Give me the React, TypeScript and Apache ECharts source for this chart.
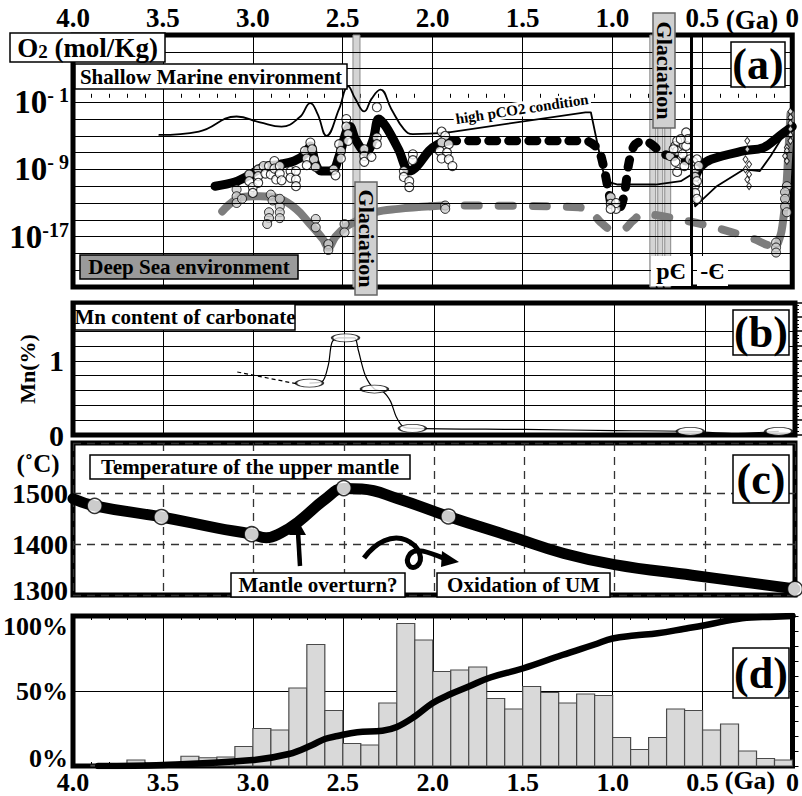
import React, { useEffect, useRef } from "react";
import * as echarts from "echarts";

const FONT = "'Liberation Serif','Times New Roman',serif";

// ---------------- Panel (a): log10 O2 (mol/kg) vs age (Ga) ----------------
const O2_GRID_LEVELS = [-21, -19, -17, -15, -13, -11, -9, -7, -5, -3, -1, 1, 3, 5];
const O2_LABEL_LEVELS = [-1, -9, -17];
const O2_LABEL_EXP: Record<string, string> = { "-1": "- 1", "-9": "- 9", "-17": "-17" };

const HIGH_PCO2_EARLY = [
  [3.52, -4.9], [3.3, -4.5], [3.09, -2.7], [2.96, -3.4], [2.84, -3.9], [2.74, -2.8], [2.68, -1.1],
  [2.64, -2.4], [2.59, -5.0], [2.52, -1.8], [2.47, 0.9], [2.43, -0.6], [2.38, -2.1], [2.34, -0.6],
  [2.29, 0.5], [2.23, -1.8], [2.16, -4.2], [2.11, -4.8], [1.91, -4.6],
];
const HIGH_PCO2_LATE = [
  [1.91, -4.6], [1.15, -2.2], [1.12, -2.2], [1.04, -10.4], [0.97, -10.8], [0.76, -10.8], [0.62, -10.4],
  [0.56, -9.6], [0.54, -13.4], [0.42, -11.0], [0.27, -9.0], [0.18, -9.2], [0.12, -7.4], [0.01, -3.6],
];
const SHALLOW_ARCHEAN = [
  [3.21, -11.0], [3.1, -10.5], [3.02, -9.7], [2.94, -8.7], [2.85, -8.4], [2.77, -8.0], [2.71, -7.2],
  [2.68, -6.2], [2.65, -8.4], [2.62, -9.2], [2.56, -9.2], [2.52, -7.4], [2.48, -4.5], [2.46, -3.9],
  [2.43, -5.4], [2.37, -7.0], [2.33, -5.4], [2.3, -3.0], [2.26, -3.9], [2.19, -6.6], [2.13, -9.2],
  [2.09, -8.7], [2.02, -6.8], [1.97, -6.0], [1.91, -5.6],
];
const SHALLOW_PROTEROZOIC = [
  [1.91, -5.6], [1.15, -5.6], [1.08, -6.6], [1.05, -8.6], [1.02, -11.7], [1.0, -13.4], [0.96, -13.5],
  [0.93, -11.4], [0.91, -8.4], [0.88, -6.2], [0.83, -5.6], [0.79, -5.9], [0.75, -6.6], [0.71, -7.2],
  [0.66, -7.5], [0.59, -8.0],
];
const SHALLOW_PHANEROZOIC = [
  [0.54, -10.0], [0.51, -8.7], [0.45, -7.8], [0.27, -6.8], [0.16, -6.4], [0.07, -5.0], [0.0, -3.9],
];
const DEEP_ARCHEAN = [
  [3.17, -14.0], [3.06, -12.3], [2.96, -12.2], [2.85, -12.5], [2.76, -13.7], [2.69, -15.3], [2.61, -17.3],
  [2.58, -18.3], [2.54, -17.0], [2.48, -15.8], [2.43, -15.2], [2.32, -14.1], [2.19, -13.7], [2.01, -13.4],
];
const DEEP_PROTEROZOIC = [
  [2.01, -13.4], [1.93, -13.3], [1.19, -13.5], [1.12, -14.0], [1.07, -15.2], [1.01, -16.1], [0.93, -16.0],
  [0.89, -15.2], [0.83, -14.3], [0.64, -14.9], [0.45, -15.8], [0.21, -17.3], [0.13, -18.0], [0.08, -17.8],
];
const DEEP_RECENT = [[0.08, -17.8], [0.06, -16.4], [0.04, -13.1], [0.03, -10.2], [0.01, -2.4]];

const O2_SAMPLES_WHITE = [
  [3.02, -9.6], [3.02, -10.4], [3.0, -11.1], [3.0, -11.8], [2.97, -9.0], [2.97, -9.8], [2.97, -10.6],
  [2.94, -8.6], [2.93, -9.5], [2.91, -8.6], [2.9, -9.6], [2.88, -8.0], [2.88, -8.9], [2.87, -10.2],
  [2.85, -8.6], [2.85, -9.5], [2.84, -10.3], [2.79, -9.2], [2.79, -10.0], [2.76, -9.2], [2.76, -10.2],
  [2.76, -11.0], [2.71, -6.8], [2.7, -7.7], [2.7, -8.5], [2.68, -5.8], [2.67, -6.6], [2.66, -7.8],
  [2.65, -8.7], [2.55, -9.0], [2.54, -9.7], [2.52, -6.0], [2.51, -6.8], [2.51, -7.7], [2.48, -3.0],
  [2.48, -3.9], [2.47, -4.8], [2.47, -5.6], [2.38, -6.6], [2.38, -7.4], [2.38, -8.1], [2.34, -7.5],
  [2.31, -1.6], [2.31, -5.2], [2.31, -6.0], [2.16, -9.2], [2.16, -9.9], [2.13, -10.4], [2.13, -11.1],
  [2.11, -7.2], [2.11, -7.9], [1.95, -4.5], [1.93, -5.0], [1.95, -5.8], [1.91, -6.0], [1.96, -6.8],
  [1.92, -7.0], [1.95, -7.7], [1.91, -7.8], [1.89, -8.6], [1.01, -12.3], [1.01, -13.1], [0.98, -13.7],
  [0.98, -13.0], [1.01, -13.7], [0.68, -7.4], [0.65, -6.2], [0.65, -8.1], [0.64, -5.6], [0.64, -6.8],
  [0.64, -9.3], [0.61, -7.2], [0.6, -8.6], [0.59, -4.6], [0.59, -6.2], [0.58, -5.4], [0.57, -7.8],
  [0.55, -8.1], [0.54, -9.0], [0.54, -9.9], [0.54, -10.9], [0.54, -11.8], [0.53, -7.8], [0.53, -10.4],
  [0.52, -8.6], [0.53, -12.5], [0.62, -5.4], [0.66, -6.6],
];
const O2_SAMPLES_GRAY = [
  [3.09, -11.4], [3.09, -12.2], [3.09, -13.0], [3.06, -12.5], [2.9, -12.0], [2.89, -12.7], [2.91, -14.1],
  [2.91, -14.8], [2.92, -15.5], [2.85, -13.4], [2.85, -14.1], [2.85, -14.8], [2.85, -12.5], [2.65, -14.9],
  [2.65, -15.9], [2.58, -17.9], [2.58, -18.6], [2.49, -15.5], [2.49, -16.5], [1.93, -13.3], [1.93, -13.7],
  [0.03, -11.0], [0.04, -11.7], [0.04, -12.5], [0.04, -13.4], [0.03, -14.1], [0.09, -17.7], [0.09, -18.3],
  [0.09, -18.9],
];
const O2_SAMPLES_SMALL = [
  [0.25, -5.6], [0.25, -6.6], [0.26, -7.8], [0.24, -8.4], [0.26, -9.0], [0.24, -9.6], [0.25, -10.2],
  [0.24, -11.0], [0.01, -2.1], [0.01, -2.8], [0.01, -3.5], [0.01, -4.2], [0.01, -4.9], [0.01, -5.6],
  [0.03, -6.4], [0.03, -6.8], [0.04, -7.4], [0.03, -8.0],
];
const GLACIATION_STRIPS = [[2.443, 2.404], [0.792, 0.759], [0.748, 0.72], [0.709, 0.676]];
const CAMBRIAN_BASE = 0.56;

// ---------------- Panel (b): Mn content of carbonate (%) ----------------
const MN_GRID_LEVELS = [0.2, 0.4, 0.6, 0.8, 1.0, 1.2, 1.4];
const MN_LABELS = [0, 1];
const MN_EARLY_DASHED = [[3.09, 0.85], [2.76, 0.69]];
const MN_TREND = [
  [2.69, 0.7], [2.62, 0.72], [2.585, 0.95], [2.565, 1.25], [2.53, 1.31], [2.49, 1.31], [2.44, 1.31],
  [2.42, 1.15], [2.38, 0.8], [2.33, 0.62], [2.28, 0.58], [2.24, 0.45], [2.21, 0.25], [2.17, 0.11],
  [2.12, 0.09], [1.5, 0.075], [1.0, 0.06], [0.58, 0.05], [0.35, 0.02], [0.09, 0.05],
];
const MN_SAMPLES = [[2.69, 0.7], [2.49, 1.31], [2.33, 0.62], [2.12, 0.09], [0.58, 0.05], [0.09, 0.05]];

// ---------------- Panel (c): upper mantle temperature (°C) ----------------
const MANTLE_T_LINE = [
  [4.0, 1490], [3.88, 1476], [3.51, 1454], [3.2, 1432], [3.01, 1420], [2.93, 1413], [2.85, 1422],
  [2.75, 1445], [2.6, 1490], [2.5, 1510], [2.4, 1509], [2.2, 1490], [1.92, 1455], [1.56, 1414],
  [1.28, 1382], [1.0, 1360], [0.57, 1339], [0.0, 1312],
];
const MANTLE_T_POINTS = [[3.88, 1476], [3.51, 1454], [3.01, 1420], [2.5, 1511], [1.92, 1455], [0.0, 1312]];

// ---------------- Panel (d): histogram (%) and cumulative curve (%) ----------------
const HIST_BIN_OLD_EDGE = [
  3.9, 3.8, 3.7, 3.6, 3.5, 3.4, 3.3, 3.2, 3.1, 3.0, 2.9, 2.8, 2.7, 2.6, 2.5, 2.4, 2.3, 2.2, 2.1, 2.0,
  1.9, 1.8, 1.7, 1.6, 1.5, 1.4, 1.3, 1.2, 1.1, 1.0, 0.9, 0.8, 0.7, 0.6, 0.5, 0.4, 0.3, 0.2, 0.1,
];
const HIST_BIN_WIDTH = 0.1;
const HIST_PCT = [
  0.5, 1, 4, 2, 0.5, 6.5, 5.5, 6, 13, 25, 24, 52, 81, 37, 15, 14, 42, 95, 84, 63,
  64, 66, 45, 38, 53, 49, 42, 48, 47, 19, 11, 19, 38, 37, 24, 28, 10, 5, 4,
];
const CUMULATIVE = [
  [3.86, 0], [3.5, 0.7], [3.0, 4], [2.8, 8], [2.67, 14], [2.6, 18], [2.53, 20], [2.42, 22.5],
  [2.28, 23.5], [2.2, 26], [2.1, 33], [2.0, 42], [1.9, 48], [1.8, 53], [1.68, 59], [1.5, 65],
  [1.28, 74], [1.1, 81], [1.0, 85], [0.88, 87], [0.75, 88.5], [0.6, 91.5], [0.48, 94], [0.28, 98.5],
  [0.1, 99.5], [0.0, 100],
];

const ELLIPSE = "path://M0,4 C0,1.8 4.5,0 10,0 C15.5,0 20,1.8 20,4 C20,6.2 15.5,8 10,8 C4.5,8 0,6.2 0,4 Z";

let shapeRegistered = false;
function registerShapes() {
  if (shapeRegistered) return;
  shapeRegistered = true;
  echarts.graphic.registerShape(
    "curlyArrow",
    echarts.graphic.extendPath(
      "M364,558 C376,542 392,534 406,540 C420,546 424,560 417,566 C410,571 404,562 410,554 C416,547 428,552 446,559",
      {}
    )
  );
}

function box(x: number, y: number, w: number, h: number, text: string, size: number, opts: any = {}) {
  return {
    type: "group",
    x,
    y,
    z: 100,
    children: [
      {
        type: "rect",
        z: 100,
        shape: { x: 0, y: 0, width: w, height: h },
        style: { fill: opts.fill ?? "#fff", stroke: opts.stroke ?? "#000", lineWidth: opts.lw ?? 1.5 },
      },
      {
        type: "text",
        z: 101,
        x: w / 2,
        y: h / 2 + (opts.dy ?? 0),
        rotation: opts.rotation ?? 0,
        style: {
          text,
          fontFamily: FONT,
          fontWeight: "bold",
          fontSize: size,
          fill: "#000",
          align: "center",
          verticalAlign: "middle",
          textAlign: "center",
          textVerticalAlign: "middle",
          rich: opts.rich,
        },
      },
    ],
  };
}

function txt(x: number, y: number, text: string, size: number, extra: any = {}) {
  return {
    type: "text",
    x,
    y,
    z: 102,
    rotation: extra.rotation ?? 0,
    style: {
      text,
      fontFamily: FONT,
      fontWeight: "bold",
      fontSize: size,
      fill: "#000",
      align: "center",
      verticalAlign: "middle",
      textAlign: "center",
      textVerticalAlign: "middle",
      ...(extra.style || {}),
    },
  };
}

function xAxisFor(gridIndex: number, extra: any = {}) {
  return {
    type: "value",
    gridIndex,
    min: 0,
    max: 4,
    interval: 0.5,
    inverse: true,
    axisLine: { show: false },
    axisTick: { show: false },
    axisLabel: { show: false },
    splitLine: { show: true, lineStyle: { color: "#000", width: 1 } },
    ...extra,
  };
}

const ageLabel = {
  show: true,
  fontSize: 27,
  fontWeight: "bold",
  fontFamily: FONT,
  color: "#000",
  showMinLabel: true,
  showMaxLabel: true,
  formatter: (v: number) => (v === 0 ? "0" : v.toFixed(1)),
};

const labelTxt = (size: number, padding: number[]) => ({
  fontSize: size,
  fontWeight: "bold",
  fontFamily: FONT,
  color: "#000",
  padding,
});

function buildOption() {
  const grids = [
    { top: 35, height: 252 },
    { top: 303, height: 132 },
    { top: 443, height: 152 },
    { top: 616, height: 150 },
  ].map((g) => ({
    left: 73,
    width: 722,
    top: g.top,
    height: g.height,
    show: true,
    borderColor: "#000",
    borderWidth: 5,
    backgroundColor: "transparent",
  }));

  const xAxis = [
    xAxisFor(0, {
      position: "top",
      axisLabel: { ...ageLabel, margin: 4 },
      axisTick: { show: true, inside: true, length: 5, lineStyle: { color: "#000" } },
      minorTick: { show: true, splitNumber: 5, length: 4, lineStyle: { color: "#000" } },
    }),
    xAxisFor(1),
    xAxisFor(2, { splitLine: { show: true, lineStyle: { color: "#333", width: 1.3, type: [8, 6] } } }),
    xAxisFor(3, {
      position: "bottom",
      axisLabel: { ...ageLabel, fontSize: 26, margin: 3 },
      axisTick: { show: true, inside: true, length: 5, lineStyle: { color: "#000" } },
      minorTick: { show: true, splitNumber: 5, length: 4, lineStyle: { color: "#000" } },
    }),
    xAxisFor(3, {
      position: "top",
      splitLine: { show: false },
      axisTick: { show: true, inside: true, length: 5, lineStyle: { color: "#000" } },
      minorTick: { show: true, splitNumber: 5, length: 4, lineStyle: { color: "#000" } },
    }),
  ];

  const yAxis = [
    {
      type: "value",
      gridIndex: 0,
      min: -23,
      max: 7,
      splitLine: { show: false },
      axisLine: { show: false },
      axisTick: { show: false },
      axisLabel: {
        customValues: O2_LABEL_LEVELS,
        margin: 4,
        formatter: (v: number) => `{b|10}{s|${O2_LABEL_EXP[String(v)]}}`,
        rich: {
          b: { fontSize: 33, fontWeight: "bold", fontFamily: FONT, color: "#000", lineHeight: 34 },
          s: { fontSize: 20, fontWeight: "bold", fontFamily: FONT, color: "#000", verticalAlign: "top", lineHeight: 20 },
        },
      },
    },
    {
      type: "value",
      gridIndex: 1,
      min: 0,
      max: 1.78,
      interval: 0.2,
      splitLine: { show: false },
      axisLine: { show: false },
      axisTick: { show: true, inside: true, length: 7, lineStyle: { color: "#000", width: 1.5 } },
      minorTick: { show: true, splitNumber: 4, length: 4, lineStyle: { color: "#000" } },
      axisLabel: { customValues: MN_LABELS, fontSize: 30, fontWeight: "bold", fontFamily: FONT, color: "#000", margin: 9 },
      name: "Mn(%)",
      nameLocation: "middle",
      nameRotate: 90,
      nameGap: 34,
      nameTextStyle: { fontSize: 22, fontWeight: "bold", fontFamily: FONT, color: "#000" },
    },
    {
      type: "value",
      gridIndex: 2,
      min: 1300,
      max: 1600,
      interval: 100,
      splitLine: { show: true, lineStyle: { color: "#333", width: 1.3, type: [8, 6] } },
      axisLine: { show: false },
      axisTick: { show: false },
      axisLabel: {
        margin: 5,
        formatter: (v: number) => (v === 1600 ? "" : v === 1300 ? `{lo|${v}}` : `{n|${v}}`),
        rich: { n: labelTxt(28, [0, 0, 0, 0]), lo: labelTxt(28, [0, 0, 10, 0]) },
      },
    },
    {
      type: "value",
      gridIndex: 3,
      min: 0,
      max: 100,
      interval: 50,
      splitLine: { show: true, lineStyle: { color: "#000", width: 1 } },
      axisLine: { show: false },
      axisTick: { show: true, inside: true, length: 6, lineStyle: { color: "#000" } },
      minorTick: { show: true, splitNumber: 5, length: 6, lineStyle: { color: "#000" } },
      axisLabel: {
        margin: 5,
        formatter: (v: number) => (v === 100 ? `{hi|${v}%}` : v === 0 ? `{lo|${v}%}` : `{n|${v}%}`),
        rich: { n: labelTxt(26, [0, 0, 0, 0]), hi: labelTxt(26, [20, 0, 0, 0]), lo: labelTxt(26, [0, 0, 16, 0]) },
      },
    },
  ];

  const blackLine = (data: number[][], width: number, extra: any = {}) => ({
    type: "line",
    xAxisIndex: 0,
    yAxisIndex: 0,
    data,
    symbol: "none",
    smooth: 0.35,
    silent: true,
    z: 3,
    lineStyle: { color: "#000", width, cap: "round", join: "round", ...(extra.lineStyle || {}) },
    ...extra.series,
  });
  const grayColor = "#7d7d7d";

  const series: any[] = [
    // (a) horizontal grid lines
    {
      type: "line",
      xAxisIndex: 0,
      yAxisIndex: 0,
      data: [],
      z: 1,
      markLine: {
        silent: true,
        symbol: ["none", "none"],
        label: { show: false },
        lineStyle: { color: "#000", width: 1, type: "solid" },
        data: O2_GRID_LEVELS.map((v) => ({ yAxis: v })),
      },
    },
    blackLine(HIGH_PCO2_EARLY, 1.8, { series: { smooth: 0.45 } }),
    blackLine(HIGH_PCO2_LATE, 1.8, { series: { smooth: false } }),
    {
      type: "line", xAxisIndex: 0, yAxisIndex: 0, data: DEEP_ARCHEAN, symbol: "none", smooth: 0.4, z: 3,
      lineStyle: { color: grayColor, width: 8, cap: "round", join: "round" },
    },
    {
      type: "line", xAxisIndex: 0, yAxisIndex: 0, data: DEEP_PROTEROZOIC, symbol: "none", smooth: 0.3, z: 3,
      lineStyle: { color: grayColor, width: 8, cap: "round", join: "round", type: [14, 20] },
    },
    {
      type: "line", xAxisIndex: 0, yAxisIndex: 0, data: DEEP_RECENT, symbol: "none", smooth: 0.3, z: 3,
      lineStyle: { color: grayColor, width: 8, cap: "round", join: "round" },
    },
    blackLine(SHALLOW_ARCHEAN, 9),
    blackLine(SHALLOW_PROTEROZOIC, 9, { lineStyle: { type: [8, 12] }, series: { smooth: 0.3 } }),
    blackLine(SHALLOW_PHANEROZOIC, 9),
    {
      type: "scatter", xAxisIndex: 0, yAxisIndex: 0, data: O2_SAMPLES_GRAY, symbol: "circle", symbolSize: 9, z: 4,
      itemStyle: { color: "#cfcfcf", borderColor: "#000", borderWidth: 1 },
    },
    {
      type: "scatter", xAxisIndex: 0, yAxisIndex: 0, data: O2_SAMPLES_WHITE, symbol: "circle", symbolSize: 9, z: 4,
      itemStyle: { color: "#fff", borderColor: "#000", borderWidth: 1.1 },
    },
    {
      type: "scatter", xAxisIndex: 0, yAxisIndex: 0, data: O2_SAMPLES_SMALL, symbol: "diamond", symbolSize: [5, 7], z: 4,
      itemStyle: { color: "#fff", borderColor: "#000", borderWidth: 1 },
    },
    // glaciation strips
    {
      type: "line", xAxisIndex: 0, yAxisIndex: 0, data: [], z: 6,
      markArea: {
        silent: true,
        itemStyle: { color: "#d4d4d4", borderColor: "#888", borderWidth: 1 },
        data: GLACIATION_STRIPS.map(([a, b]) => [{ xAxis: a }, { xAxis: b }]),
      },
    },
    // Precambrian / Cambrian boundary
    {
      type: "line", xAxisIndex: 0, yAxisIndex: 0, data: [], z: 7,
      markLine: {
        silent: true,
        symbol: ["none", "none"],
        label: { show: false },
        lineStyle: { color: "#000", width: 3, type: "solid" },
        data: [{ xAxis: CAMBRIAN_BASE }],
      },
    },

    // (b)
    {
      type: "line", xAxisIndex: 1, yAxisIndex: 1, data: [], z: 1,
      markLine: {
        silent: true,
        symbol: ["none", "none"],
        label: { show: false },
        lineStyle: { color: "#000", width: 1, type: "solid" },
        data: MN_GRID_LEVELS.map((v) => ({ yAxis: v })),
      },
    },
    {
      type: "line", xAxisIndex: 1, yAxisIndex: 1, data: MN_EARLY_DASHED, symbol: "none", z: 3,
      lineStyle: { color: "#000", width: 1.2, type: [4, 3] },
    },
    {
      type: "line", xAxisIndex: 1, yAxisIndex: 1, data: MN_TREND, symbol: "none", smooth: 0.3, z: 3,
      lineStyle: { color: "#000", width: 1.2 },
    },
    {
      type: "scatter", xAxisIndex: 1, yAxisIndex: 1, data: MN_SAMPLES, symbol: ELLIPSE, symbolSize: [27, 8], z: 4,
      itemStyle: { color: "#fff", borderColor: "#000", borderWidth: 1.4 },
    },

    // (c)
    {
      type: "line", xAxisIndex: 2, yAxisIndex: 2, data: MANTLE_T_LINE, symbol: "none", smooth: 0.45, z: 3,
      lineStyle: { color: "#000", width: 11, cap: "round", join: "round" },
    },
    {
      type: "scatter", xAxisIndex: 2, yAxisIndex: 2, data: MANTLE_T_POINTS, symbol: "circle", symbolSize: 15, z: 4,
      itemStyle: { color: "#fff", borderColor: "#000", borderWidth: 1.5 },
    },

    // (d)
    {
      type: "custom",
      xAxisIndex: 3,
      yAxisIndex: 3,
      z: 2,
      data: HIST_BIN_OLD_EDGE.map((old, i) => [old, old - HIST_BIN_WIDTH, HIST_PCT[i]]),
      encode: { x: [0, 1], y: 2 },
      renderItem: (params: any, api: any) => {
        const older = api.value(0);
        const younger = api.value(1);
        const pct = api.value(2);
        const p1 = api.coord([older, pct]);
        const p2 = api.coord([younger, 0]);
        return {
          type: "rect",
          shape: {
            x: Math.min(p1[0], p2[0]),
            y: Math.min(p1[1], p2[1]),
            width: Math.abs(p2[0] - p1[0]),
            height: Math.abs(p2[1] - p1[1]),
          },
          style: { fill: "#d9d9d9", stroke: "#4a4a4a", lineWidth: 1.2 },
        };
      },
    },
    {
      type: "line", xAxisIndex: 3, yAxisIndex: 3, data: CUMULATIVE, symbol: "none", smooth: 0.4, z: 4,
      lineStyle: { color: "#000", width: 6.5, cap: "round", join: "round" },
    },
  ];

  const graphic: any[] = [
    // (a)
    box(10, 33, 155, 29, "{a|O}{s|2}{a| (mol/Kg)}", 27, {
      rich: {
        a: { fontSize: 27, fontWeight: "bold", fontFamily: FONT, color: "#000" },
        s: { fontSize: 19, fontWeight: "bold", fontFamily: FONT, color: "#000", verticalAlign: "bottom", padding: [8, 0, 0, 0] },
      },
    }),
    box(75, 64, 272, 25, "Shallow Marine environment", 21),
    box(80, 255, 218, 24, "Deep Sea environment", 21, { fill: "#9a9a9a" }),
    box(731, 42, 54, 45, "(a)", 44),
    txt(522, 109, "high pCO2 condition", 15, { rotation: 0.15, style: { backgroundColor: "#fff", padding: [0, 2] } }),
    box(355, 182, 22, 113, "Glaciation", 22, { fill: "#d0d0d0", stroke: "#666", rotation: -Math.PI / 2 }),
    box(653, 13, 22, 115, "Glaciation", 22, { fill: "#d0d0d0", stroke: "#666", rotation: -Math.PI / 2 }),
    box(651, 256, 40, 30, "pЄ", 24, { stroke: "none", lw: 0 }),
    box(697, 256, 31, 30, "-Є", 24, { stroke: "none", lw: 0 }),
    txt(752, 20, "(Ga)", 27),
    // (b)
    box(75, 304, 220, 26, "Mn content of carbonate", 21),
    box(733, 310, 56, 45, "(b)", 44),
    // (c)
    txt(38, 463, "(˚C)", 25),
    box(90, 455, 320, 24, "Temperature of the upper mantle", 21),
    box(733, 455, 56, 48, "(c)", 44),
    box(231, 573, 174, 24, "Mantle overturn?", 21),
    box(437, 573, 173, 24, "Oxidation of UM", 21),
    { type: "line", z: 100, shape: { x1: 300, y1: 566, x2: 298, y2: 532 }, style: { stroke: "#000", lineWidth: 4.5 } },
    { type: "polygon", z: 100, shape: { points: [[289, 535], [297, 519], [306, 535]] }, style: { fill: "#000" } },
    { type: "curlyArrow", z: 100, x: 0, y: 0, style: { fill: "none", stroke: "#000", lineWidth: 5 } },
    { type: "polygon", z: 100, shape: { points: [[442, 551], [459, 562], [441, 567]] }, style: { fill: "#000" } },
    // (d)
    box(733, 648, 56, 50, "(d)", 44),
    txt(750, 780, "(Ga)", 26),
  ];

  return {
    animation: false,
    backgroundColor: "#fff",
    textStyle: { fontFamily: FONT, fontWeight: "bold", color: "#000" },
    grid: grids,
    xAxis,
    yAxis,
    series,
    graphic,
  };
}

export default function App() {
  const ref = useRef<HTMLDivElement>(null);
  useEffect(() => {
    if (!ref.current) return;
    registerShapes();
    const chart = echarts.init(ref.current, undefined, { renderer: "svg" });
    chart.setOption(buildOption() as any);
    return () => chart.dispose();
  }, []);
  return (
    <div
      ref={ref}
      style={{ position: "absolute", left: 0, top: 0, width: 802, height: 796, background: "#fff" }}
    />
  );
}
